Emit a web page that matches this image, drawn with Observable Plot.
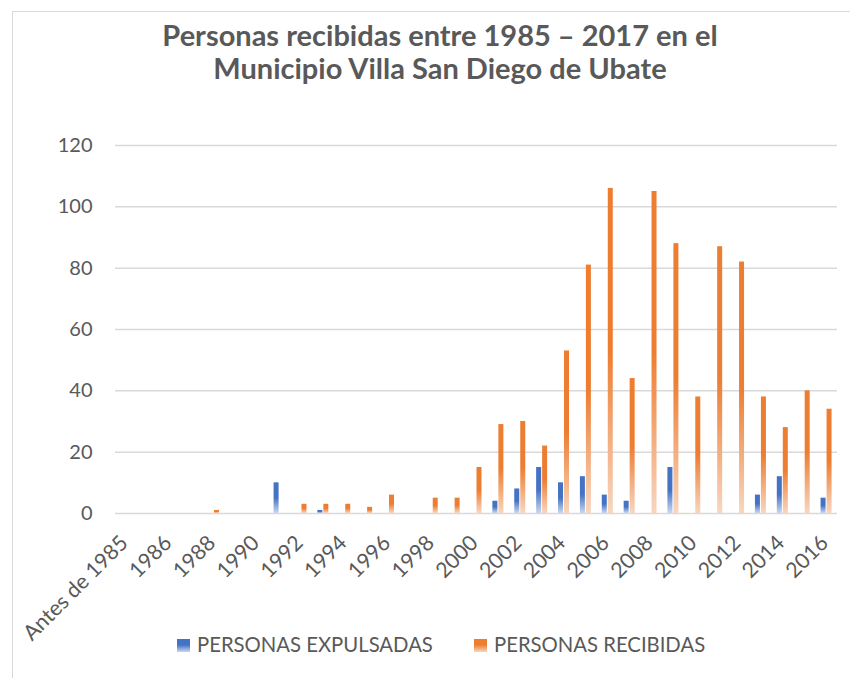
<!DOCTYPE html>
<html>
<head>
<meta charset="utf-8">
<script src="https://cdn.jsdelivr.net/npm/d3@7"></script>
<script src="https://cdn.jsdelivr.net/npm/@observablehq/plot@0.6"></script>
<style>
  html, body { margin: 0; padding: 0; background: #fff; overflow: hidden; }
  #chart { position: relative; width: 850px; height: 678px; background: #fff; font-family: Lato, "Open Sans", sans-serif; color: #595959; }
  #frame { position: absolute; left: 12px; top: 11px; width: 900px; height: 700px; border-top: 1.5px solid #d9d9d9; border-left: 1.5px solid #d9d9d9; }
  #title { position: absolute; left: 30px; width: 820px; top: 18px; text-align: center; font-weight: 700; font-size: 29px; line-height: 33.3px; color: #595959; }
  #plot { position: absolute; left: 0; top: 0; }
  .leg { position: absolute; top: 632px; font-size: 20.3px; line-height: 24px; color: #595959; white-space: nowrap; }
  .sw { position: absolute; width: 13px; height: 13px; }
</style>
</head>
<body>
<div id="chart">
  <div id="frame"></div>
  <div id="plot"></div>
  <div id="title">Personas recibidas entre 1985 – 2017 en el<br>Municipio Villa San Diego de Ubate</div>
  <div class="sw" style="left:177px; top:639px; background: linear-gradient(#4472C4 0%, #4472C4 45%, #c9d7f0 100%);"></div>
  <div class="leg" id="leg1" style="left:197px;">PERSONAS EXPULSADAS</div>
  <div class="sw" style="left:474px; top:639px; background: linear-gradient(#ED7D31 0%, #ED7D31 45%, #f8d6c0 100%);"></div>
  <div class="leg" id="leg2" style="left:494px;">PERSONAS RECIBIDAS</div>
</div>
<script>
const categories = ["Antes de 1985","1985","1986","1987","1988","1989","1990","1991","1992","1993","1994","1995","1996","1997","1998","1999","2000","2001","2002","2003","2004","2005","2006","2007","2008","2009","2010","2011","2012","2013","2014","2015","2016"];
const expulsadas = [0,0,0,0,0,0,0,10,0,1,0,0,0,0,0,0,0,4,8,15,10,12,6,4,0,15,0,0,0,6,12,0,5];
const recibidas  = [0,0,0,0,1,0,0,0,3,3,3,2,6,0,5,5,15,29,30,22,53,81,106,44,105,88,38,87,82,38,28,40,34];
const yTicks = [0,20,40,60,80,100,120];
const xTickLabels = categories.filter((d, i) => i % 2 === 0);

const dataExp = categories.map((c, i) => ({cat: c, v: expulsadas[i]})).filter(d => d.v > 0);
const dataRec = categories.map((c, i) => ({cat: c, v: recibidas[i]})).filter(d => d.v > 0);

const W = 850, H = 620;
const mL = 115, mR = 13, mT = 145, mB = 107;
const bw = (W - mL - mR) / categories.length;
const half = bw / 2;

const svg = Plot.plot({
  width: W, height: H,
  marginLeft: mL, marginRight: mR, marginTop: mT, marginBottom: mB,
  style: {fontFamily: "Lato, 'Open Sans', sans-serif", fontSize: "20px", color: "#595959", background: "transparent", overflow: "visible"},
  x: {type: "band", domain: categories, padding: 0, round: false},
  y: {domain: [0, 120]},
  marks: [
    Plot.ruleY(yTicks, {stroke: "#d9d9d9", strokeWidth: 1.5}),
    Plot.barY(dataExp, {x: "cat", y: "v", fill: "url(#gradBlue)", insetLeft: half - 5.5, insetRight: half + 0.5}),
    Plot.barY(dataRec, {x: "cat", y: "v", fill: "url(#gradOrange)", insetLeft: half + 0.5, insetRight: half - 5.5}),
    Plot.axisY({ticks: yTicks, tickSize: 0, tickPadding: 23, label: null, fontSize: 20, fill: "#595959"}),
    Plot.axisX({ticks: xTickLabels, tickSize: 0, tickPadding: 26, tickRotate: -45, label: null, fontSize: 21.3, dx: -2, fill: "#595959"})
  ]
});

const defs = d3.select(svg).insert("defs", ":first-child");
function grad(id, c1, c2) {
  const g = defs.append("linearGradient").attr("id", id).attr("x1", 0).attr("y1", 0).attr("x2", 0).attr("y2", 1);
  g.append("stop").attr("offset", "0%").attr("stop-color", c1);
  g.append("stop").attr("offset", "50%").attr("stop-color", c1);
  g.append("stop").attr("offset", "100%").attr("stop-color", c2);
}
grad("gradBlue", "#4472C4", "#c9d7f0");
grad("gradOrange", "#ED7D31", "#f8d6c0");

document.getElementById("plot").appendChild(svg);
</script>
</body>
</html>
